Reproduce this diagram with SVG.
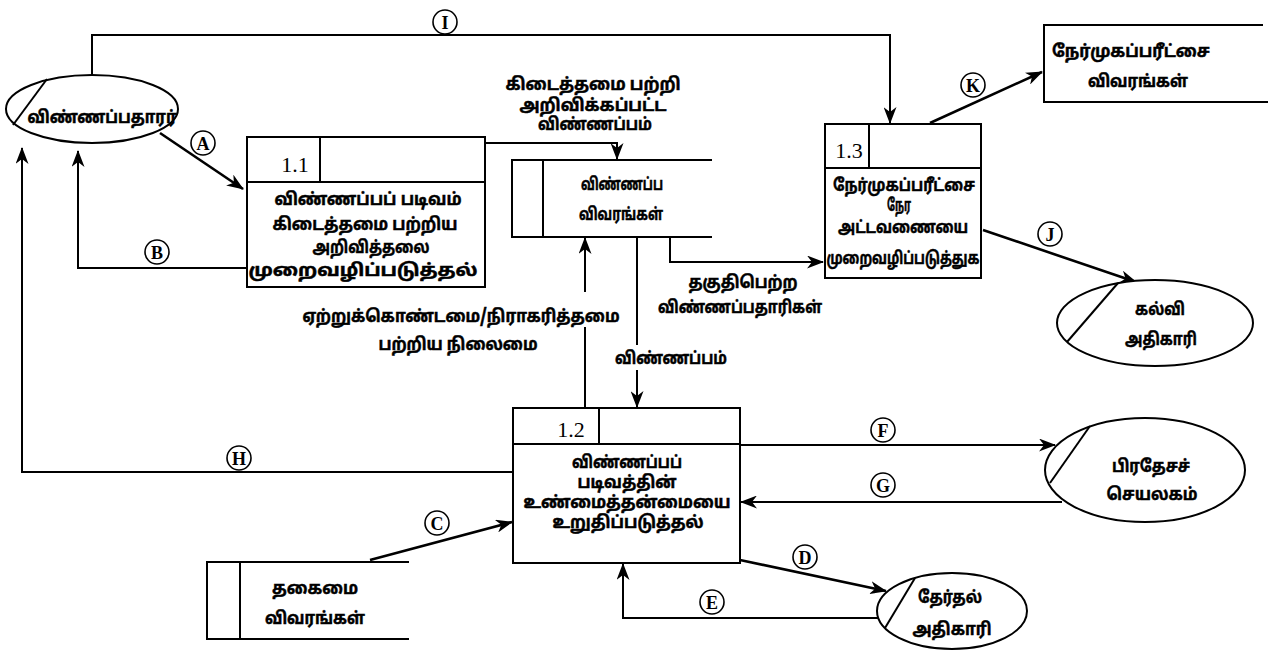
<svg xmlns="http://www.w3.org/2000/svg" width="1268" height="650" viewBox="0 0 1268 650">
<defs>
<marker id="arr" markerUnits="userSpaceOnUse" markerWidth="17" markerHeight="13" viewBox="0 0 17 13" refX="16" refY="6.5" orient="auto">
<path d="M0,0 L17,6.5 L0,13 L5,6.5 Z" fill="#000"/>
</marker>
<style>
.ln{fill:none;stroke:#000;stroke-width:2}
.thk{fill:none;stroke:#000;stroke-width:2.6}
.box{fill:#fff;stroke:#000;stroke-width:2}
.t{font-family:"Noto Sans Tamil","Latha","Noto Sans","DejaVu Sans",sans-serif;font-size:17px;font-weight:bold;fill:#000;stroke:#000;stroke-width:0.5;text-anchor:middle}
.num{font-family:"Liberation Serif","Times New Roman",serif;font-size:22px;fill:#000;text-anchor:middle}
.lc{fill:#fff;stroke:#000;stroke-width:1.6}
.lt{font-family:"Liberation Serif","Times New Roman",serif;font-size:18px;font-weight:bold;fill:#000;text-anchor:middle}
</style>
</defs>
<rect width="1268" height="650" fill="#fff"/>

<g id="connectors">
<path class="ln" d="M92,75 V35 H890 V123" marker-end="url(#arr)"/>
<line class="thk" x1="160" y1="133" x2="243" y2="189" marker-end="url(#arr)"/>
<path class="ln" d="M247,268 H78 V151" marker-end="url(#arr)"/>
<path class="ln" d="M513,472 H22 V148" marker-end="url(#arr)"/>
<path class="ln" d="M485,143 H617 V159" marker-end="url(#arr)"/>
<path class="ln" d="M670,237 V262 H823" marker-end="url(#arr)"/>
<path class="ln" d="M585,408 V327"/>
<path class="ln" d="M585,292 V238" marker-end="url(#arr)"/>
<path class="ln" d="M637,237 V345"/>
<path class="ln" d="M637,370 V407" marker-end="url(#arr)"/>
<line class="thk" x1="370" y1="560" x2="512" y2="522" marker-end="url(#arr)"/>
<line class="thk" x1="740" y1="560" x2="886" y2="591" marker-end="url(#arr)"/>
<path class="ln" d="M878,618 H623 V564" marker-end="url(#arr)"/>
<path class="ln" d="M740,445 H1055" marker-end="url(#arr)"/>
<path class="ln" d="M1062,502 H741" marker-end="url(#arr)"/>
<line class="thk" x1="983" y1="230" x2="1136" y2="282" marker-end="url(#arr)"/>
<line class="thk" x1="930" y1="123" x2="1042" y2="72" marker-end="url(#arr)"/>
<g id="flow-labels">
<circle class="lc" cx="445" cy="22" r="12"/><text class="lt" x="445" y="28.5">I</text>
<circle class="lc" cx="203" cy="143" r="12"/><text class="lt" x="203" y="149.5">A</text>
<circle class="lc" cx="157" cy="252" r="12"/><text class="lt" x="157" y="258.5">B</text>
<circle class="lc" cx="239" cy="458" r="12"/><text class="lt" x="239" y="464.5">H</text>
<circle class="lc" cx="437" cy="523" r="12"/><text class="lt" x="437" y="529.5">C</text>
<circle class="lc" cx="805" cy="557" r="12"/><text class="lt" x="805" y="563.5">D</text>
<circle class="lc" cx="712" cy="602" r="12"/><text class="lt" x="712" y="608.5">E</text>
<circle class="lc" cx="883" cy="430" r="12"/><text class="lt" x="883" y="436.5">F</text>
<circle class="lc" cx="883" cy="485" r="12"/><text class="lt" x="883" y="491.5">G</text>
<circle class="lc" cx="1050" cy="234" r="12"/><text class="lt" x="1050" y="240.5">J</text>
<circle class="lc" cx="973" cy="85" r="12"/><text class="lt" x="973" y="91.5">K</text>
<text class="t" x="593" y="90" textLength="175" lengthAdjust="spacingAndGlyphs">கிடைத்தமை பற்றி</text>
<text class="t" x="593" y="111" textLength="147" lengthAdjust="spacingAndGlyphs">அறிவிக்கப்பட்ட</text>
<text class="t" x="595" y="130" textLength="114" lengthAdjust="spacingAndGlyphs">விண்ணப்பம்</text>
<text class="t" x="743" y="288" textLength="109" lengthAdjust="spacingAndGlyphs">தகுதிபெற்ற</text>
<text class="t" x="740" y="313" textLength="164" lengthAdjust="spacingAndGlyphs">விண்ணப்பதாரிகள்</text>
<text class="t" x="461" y="322" textLength="317" lengthAdjust="spacingAndGlyphs">ஏற்றுக்கொண்டமை/நிராகரித்தமை</text>
<text class="t" x="458" y="350" textLength="159" lengthAdjust="spacingAndGlyphs">பற்றிய நிலைமை</text>
<text class="t" x="671" y="364" textLength="112" lengthAdjust="spacingAndGlyphs">விண்ணப்பம்</text>
</g>
</g>

<g id="applicant">
<ellipse class="box" cx="92" cy="109" rx="86" ry="34"/>
<line class="ln" x1="13" y1="125" x2="47" y2="79"/>
<text class="t" x="102" y="123" textLength="149" lengthAdjust="spacingAndGlyphs">விண்ணப்பதாரர்</text>
</g>

<g id="p1-1">
<rect class="box" x="247" y="137" width="238" height="150"/>
<line class="ln" x1="247" y1="182" x2="485" y2="182"/>
<line class="ln" x1="320" y1="137" x2="320" y2="182"/>
<text class="num" x="295" y="172">1.1</text>
<text class="t" x="368" y="205" textLength="187" lengthAdjust="spacingAndGlyphs">விண்ணப்பப் படிவம்</text>
<text class="t" x="365" y="230" textLength="185" lengthAdjust="spacingAndGlyphs">கிடைத்தமை பற்றிய</text>
<text class="t" x="371" y="253" textLength="117" lengthAdjust="spacingAndGlyphs">அறிவித்தலை</text>
<text class="t" x="363" y="276" textLength="229" lengthAdjust="spacingAndGlyphs">முறைவழிப்படுத்தல்</text>
</g>

<g id="store-application">
<path class="ln" d="M712,160 H512 V237 H712 M543,160 V237"/>
<text class="t" x="622" y="190" textLength="82" lengthAdjust="spacingAndGlyphs">விண்ணப்ப</text>
<text class="t" x="621" y="220" textLength="84" lengthAdjust="spacingAndGlyphs">விவரங்கள்</text>
</g>

<g id="p1-3">
<rect class="box" x="825" y="124" width="156" height="154"/>
<line class="ln" x1="825" y1="168" x2="981" y2="168"/>
<line class="ln" x1="869" y1="124" x2="869" y2="168"/>
<text class="num" x="849" y="158">1.3</text>
<text class="t" x="904" y="191" textLength="142" lengthAdjust="spacingAndGlyphs">நேர்முகப்பரீட்சை</text>
<text class="t" x="899" y="211" textLength="24" lengthAdjust="spacingAndGlyphs">நேர</text>
<text class="t" x="903" y="233" textLength="130" lengthAdjust="spacingAndGlyphs">அட்டவணையை</text>
<text class="t" x="903" y="264" textLength="153" lengthAdjust="spacingAndGlyphs">முறைவழிப்படுத்துக</text>
</g>

<g id="store-interview">
<path class="ln" d="M1263,25 H1044 V102 H1268"/>
<text class="t" x="1131" y="57" textLength="158" lengthAdjust="spacingAndGlyphs">நேர்முகப்பரீட்சை</text>
<text class="t" x="1138" y="87" textLength="100" lengthAdjust="spacingAndGlyphs">விவரங்கள்</text>
</g>

<g id="education-officer">
<ellipse class="box" cx="1155" cy="323" rx="98" ry="43"/>
<line class="ln" x1="1067" y1="342" x2="1118" y2="283"/>
<text class="t" x="1160" y="315" textLength="50" lengthAdjust="spacingAndGlyphs">கல்வி</text>
<text class="t" x="1161" y="345" textLength="72" lengthAdjust="spacingAndGlyphs">அதிகாரி</text>
</g>

<g id="p1-2">
<rect class="box" x="513" y="408" width="227" height="155"/>
<line class="ln" x1="513" y1="444" x2="740" y2="444"/>
<line class="ln" x1="599" y1="408" x2="599" y2="444"/>
<text class="num" x="571" y="437">1.2</text>
<text class="t" x="627" y="468" textLength="110" lengthAdjust="spacingAndGlyphs">விண்ணப்பப்</text>
<text class="t" x="627" y="488" textLength="99" lengthAdjust="spacingAndGlyphs">படிவத்தின்</text>
<text class="t" x="627" y="508" textLength="207" lengthAdjust="spacingAndGlyphs">உண்மைத்தன்மையை</text>
<text class="t" x="628" y="528" textLength="151" lengthAdjust="spacingAndGlyphs">உறுதிப்படுத்தல்</text>
</g>

<g id="divisional-secretariat">
<ellipse class="box" cx="1145" cy="470" rx="100" ry="52"/>
<line class="ln" x1="1050" y1="483" x2="1090" y2="426"/>
<text class="t" x="1151" y="472" textLength="78" lengthAdjust="spacingAndGlyphs">பிரதேசச்</text>
<text class="t" x="1152" y="500" textLength="91" lengthAdjust="spacingAndGlyphs">செயலகம்</text>
</g>

<g id="store-qualification">
<path class="ln" d="M409,562 H207 V639 H409 M240,562 V639"/>
<text class="t" x="315" y="594" textLength="86" lengthAdjust="spacingAndGlyphs">தகைமை</text>
<text class="t" x="315" y="624" textLength="100" lengthAdjust="spacingAndGlyphs">விவரங்கள்</text>
</g>

<g id="election-officer">
<ellipse class="box" cx="952" cy="611" rx="75" ry="38"/>
<line class="ln" x1="885" y1="628" x2="915" y2="578"/>
<text class="t" x="950" y="603" textLength="64" lengthAdjust="spacingAndGlyphs">தேர்தல்</text>
<text class="t" x="952" y="635" textLength="79" lengthAdjust="spacingAndGlyphs">அதிகாரி</text>
</g>
</svg>
